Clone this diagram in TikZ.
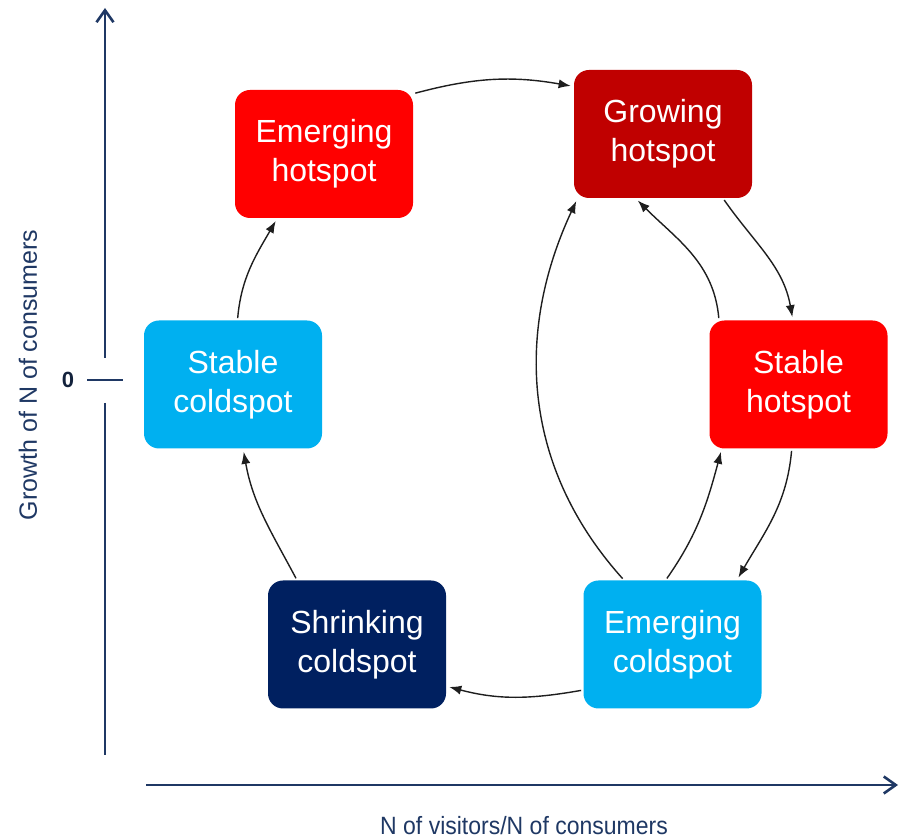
\documentclass[tikz,border=0pt]{standalone}
\usepackage{fontspec}
\setmainfont{Liberation Sans}
\usetikzlibrary{arrows.meta}
\definecolor{axisblue}{RGB}{31,56,100}
\definecolor{hotred}{RGB}{255,0,0}
\definecolor{darkred}{RGB}{192,0,0}
\definecolor{coldblue}{RGB}{0,176,240}
\definecolor{navy}{RGB}{0,32,96}
\definecolor{arrowgray}{RGB}{30,30,30}
\tikzset{
  state/.style={rounded corners=7.5pt, minimum width=89pt, minimum height=64pt,
    inner sep=0pt, align=center, text=white,
    font=\fontsize{16}{19.5}\selectfont},
  flow/.style={draw=arrowgray, line width=0.7pt, -{Latex[length=6pt,width=4.6pt]},
    shorten >=1.5pt, shorten <=1pt},
  axis/.style={draw=axisblue, line width=1.3pt},
  axislabel/.style={text=axisblue, font=\fontsize{12.5}{15}\selectfont, inner sep=0pt}
}
\begin{document}
\begin{tikzpicture}[x=0.5pt,y=-0.5pt]
\useasboundingbox (0,0) rectangle (900,838);

% axes
\coordinate (ytop) at (105,8);
\coordinate (yupper) at (105,358);
\coordinate (ylower) at (105,403);
\coordinate (ybot) at (105,755);
\coordinate (tickl) at (87,380);
\coordinate (tickr) at (123,380);
\coordinate (xstart) at (146,785);
\coordinate (xend) at (898,785);
\draw[axis, -{Straight Barb[length=6pt,width=8.5pt,line width=1.3pt]}] (yupper) -- (ytop);
\draw[axis] (ylower) -- (ybot);
\draw[axis] (tickl) -- (tickr);
\draw[axis, -{Straight Barb[length=6pt,width=8.5pt,line width=1.3pt]}] (xstart) -- (xend);
\node[font=\fontsize{11}{13}\selectfont\bfseries, text=axisblue!60!black] (zero) at (68,380) {0};
\node[axislabel, rotate=90] (ylab) at (28,375) {Growth of N of consumers};
\node[axislabel, xscale=0.92, transform shape] (xlab) at (524,826) {N of visitors/N of consumers};

% states
\node[state, fill=hotred]   (eh)  at (324,154)   {Emerging\\hotspot};
\node[state, fill=darkred]  (gh)  at (663,134)   {Growing\\hotspot};
\node[state, fill=hotred]   (sh)  at (798.5,384.5) {Stable\\hotspot};
\node[state, fill=coldblue] (sc)  at (233,384.5) {Stable\\coldspot};
\node[state, fill=navy]     (shr) at (357,644.5) {Shrinking\\coldspot};
\node[state, fill=coldblue] (ec)  at (672.5,644.5) {Emerging\\coldspot};

% transitions
\draw[flow] (eh.34) to[out=15,in=170] (gh.152);
\draw[flow] (gh.-47) to[out=-55,in=100] (sh.95);
\draw[flow] (sh.141) to[out=95,in=-45] (gh.-113);
\draw[flow] (sh.-96) to[out=-95,in=60] (ec.45);
\draw[flow] (ec.96) to[out=55,in=-105] (sh.-140);
\draw[flow] (ec.127) to[out=132,in=-115] (gh.217);
\draw[flow] (ec.-153) to[out=190,in=-15] (shr.-25);
\draw[flow] (shr.133) to[out=118,in=-80] (sc.-81);
\draw[flow] (sc.86) to[out=85,in=-120] (eh.-126);
\end{tikzpicture}
\end{document}
